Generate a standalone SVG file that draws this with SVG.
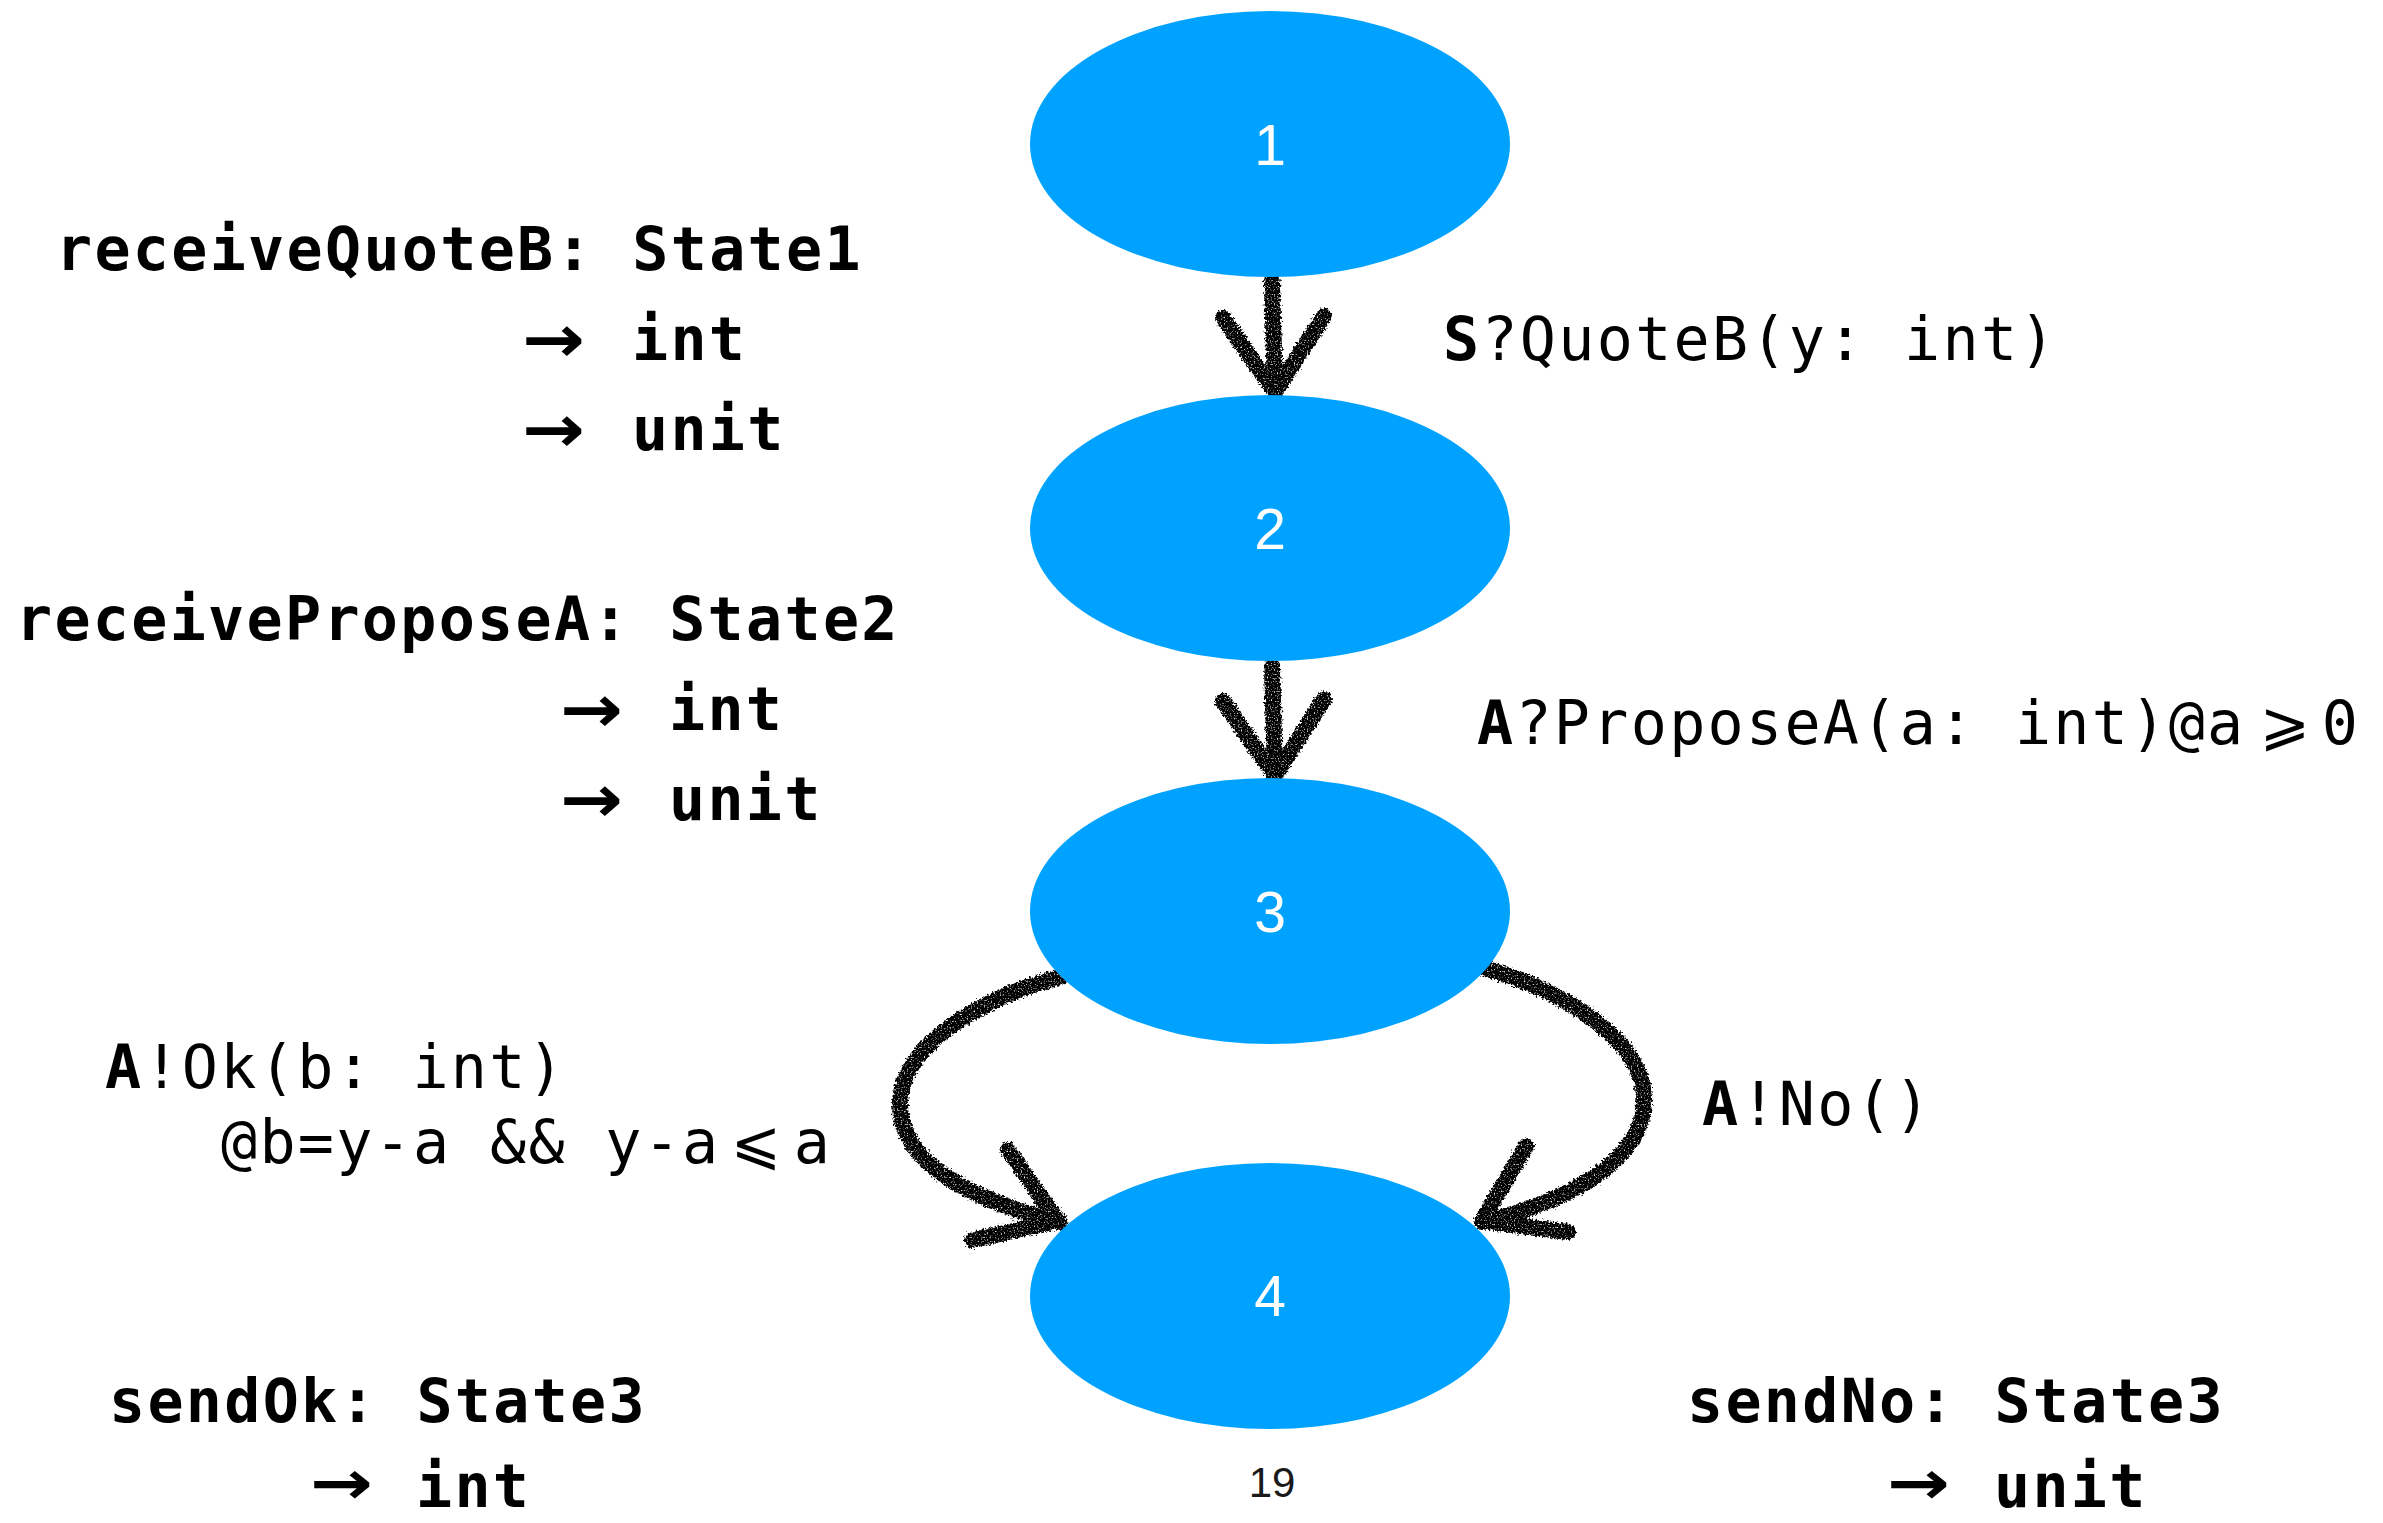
<svg xmlns="http://www.w3.org/2000/svg" width="2383" height="1523" viewBox="0 0 2383 1523">
<defs>
<style>
.mono{font-family:"DejaVu Sans Mono","DejaVu Sans","Liberation Mono",monospace;font-size:60px;letter-spacing:2.3px;fill:#000}
.b{font-weight:bold}
.arr{font-family:"Noto Sans","DejaVu Sans",sans-serif;font-weight:bold;font-size:66px;fill:#000}
.arr2{font-family:"Noto Sans","DejaVu Sans",sans-serif;font-weight:bold;font-size:61px;fill:#000}
.sym{font-family:"DejaVu Sans","DejaVu Sans Mono",sans-serif;font-size:60px;fill:#000;text-anchor:middle}
.num{font-family:"Liberation Sans",Arial,sans-serif;font-size:57px;fill:#fff;text-anchor:middle}
.node{fill:#00A2FF}
.edge{fill:none;stroke:#000;stroke-width:16;stroke-linecap:round;stroke-linejoin:round}
.page{font-family:"Liberation Sans",Arial,sans-serif;font-size:42px;fill:#1a1a1a;text-anchor:middle}
</style>
<filter id="rough" filterUnits="userSpaceOnUse" x="0" y="0" width="2383" height="1523">
<feTurbulence type="fractalNoise" baseFrequency="0.45" numOctaves="2" seed="7" result="n"/>
<feDisplacementMap in="SourceGraphic" in2="n" scale="7" xChannelSelector="R" yChannelSelector="G" result="d"/>
<feTurbulence type="fractalNoise" baseFrequency="0.7" numOctaves="1" seed="3" result="n2"/>
<feColorMatrix in="n2" type="matrix" values="0 0 0 0 0  0 0 0 0 0  0 0 0 0 0  0 0 0 -4 3.2" result="m"/>
<feComposite in="d" in2="m" operator="in"/>
</filter>
</defs>
<rect width="2383" height="1523" fill="#fff"/>
<g id="connectors" filter="url(#rough)">
<g id="e1-2"><path class="edge" d="M1272 282 L1275 390"/><path class="edge" d="M1223 318 L1275 392 L1324 316"/></g>
<g id="e2-3"><path class="edge" d="M1272 666 L1275 774"/><path class="edge" d="M1223 701 L1275 776 L1324 699"/></g>
<g id="e3-4a"><path class="edge" d="M1060 977 C 990 995, 905 1040, 900 1100 C 897 1170, 990 1205, 1060 1222"/><path class="edge" d="M1008 1150 L1058 1221 L972 1240"/></g>
<g id="e3-4b"><path class="edge" d="M1484 968 C 1555 988, 1640 1035, 1644 1095 C 1648 1165, 1555 1205, 1482 1222"/><path class="edge" d="M1526 1146 L1482 1221 L1568 1232"/></g>
</g>
<g id="node1"><ellipse class="node" cx="1270" cy="144" rx="240" ry="133"/><text class="num" x="1270" y="165">1</text></g>
<g id="node2"><ellipse class="node" cx="1270" cy="528" rx="240" ry="133"/><text class="num" x="1270" y="549">2</text></g>
<g id="node3"><ellipse class="node" cx="1270" cy="911" rx="240" ry="133"/><text class="num" x="1270" y="932">3</text></g>
<g id="node4"><ellipse class="node" cx="1270" cy="1296" rx="240" ry="133"/><text class="num" x="1270" y="1316">4</text></g>
<g id="labels">
<text class="mono b" x="56" y="270">receiveQuoteB: State1</text>
<text class="arr" x="522" y="362" textLength="63" lengthAdjust="spacingAndGlyphs">→</text>
<text class="mono b" x="632" y="360">int</text>
<text class="arr" x="522" y="452" textLength="63" lengthAdjust="spacingAndGlyphs">→</text>
<text class="mono b" x="632" y="450">unit</text>

<text class="mono b" x="16" y="640">receiveProposeA: State2</text>
<text class="arr" x="560" y="732" textLength="63" lengthAdjust="spacingAndGlyphs">→</text>
<text class="mono b" x="669" y="730">int</text>
<text class="arr" x="560" y="822" textLength="63" lengthAdjust="spacingAndGlyphs">→</text>
<text class="mono b" x="669" y="820">unit</text>

<text class="mono" x="1443" y="360"><tspan class="b">S</tspan>?QuoteB(y: int)</text>
<text class="mono" x="1477" y="744"><tspan class="b">A</tspan>?ProposeA(a: int)@a</text>
<text class="sym" x="2285" y="744">⩾</text>
<text class="mono" x="2341" y="744" text-anchor="middle">0</text>

<text class="mono" x="105" y="1088"><tspan class="b">A</tspan>!Ok(b: int)</text>
<text class="mono" x="221" y="1163">@b=y-a &amp;&amp; y-a</text>
<text class="sym" x="756" y="1163">⩽</text>
<text class="mono" x="813" y="1163" text-anchor="middle">a</text>

<text class="mono" x="1702" y="1125"><tspan class="b">A</tspan>!No()</text>

<text class="mono b" x="109" y="1422">sendOk: State3</text>
<text class="arr2" x="310" y="1504" textLength="63" lengthAdjust="spacingAndGlyphs">→</text>
<text class="mono b" x="416" y="1507">int</text>

<text class="mono b" x="1687" y="1422">sendNo: State3</text>
<text class="arr2" x="1887" y="1504" textLength="63" lengthAdjust="spacingAndGlyphs">→</text>
<text class="mono b" x="1994" y="1507">unit</text>

<text class="page" x="1272" y="1497">19</text>
</g>
</svg>
